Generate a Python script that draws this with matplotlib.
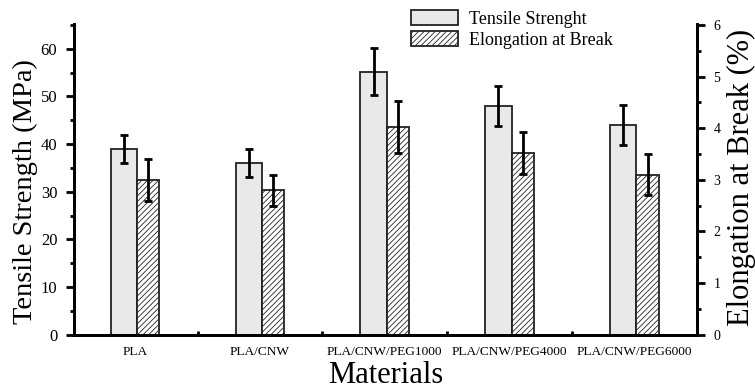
import matplotlib.pyplot as plt
import numpy as np

plt.rcParams['font.family'] = ['Liberation Serif', 'DejaVu Serif']
plt.rcParams['hatch.linewidth'] = 0.6

materials = ['PLA', 'PLA/CNW', 'PLA/CNW/PEG1000', 'PLA/CNW/PEG4000', 'PLA/CNW/PEG6000']
tensile = [39.0, 36.0, 55.2, 48.0, 44.0]
tensile_err = [3.0, 3.0, 4.9, 4.2, 4.2]
elong = [3.0, 2.8, 4.02, 3.52, 3.1]
elong_err = [0.4, 0.3, 0.5, 0.4, 0.4]

x = np.arange(len(materials))

fig = plt.figure(figsize=(7.55, 3.92), dpi=100)
ax = fig.add_axes([0.098, 0.146, 0.825, 0.793])
ax2 = ax.twinx()

b1 = ax.bar(x - 0.09, tensile, 0.21, color='#e9e9e9', edgecolor='#222222', linewidth=1.3,
            yerr=tensile_err, error_kw=dict(ecolor='black', elinewidth=2, capsize=3, capthick=2),
            label='Tensile Strenght', zorder=2)
b2 = ax2.bar(x + 0.105, elong, 0.18, color='white', edgecolor='#222222', linewidth=1.3,
             hatch='//////', yerr=elong_err,
             error_kw=dict(ecolor='black', elinewidth=2, capsize=3, capthick=2),
             label='Elongation at Break', zorder=2)

ax.set_xlim(-0.49, 4.5)
ax.set_ylim(0, 65.2)
ax2.set_ylim(0, 6.02)

ax.set_yticks(np.arange(0, 61, 10))
ax.set_yticks(np.arange(5, 66, 10), minor=True)
ax2.set_yticks(np.arange(0, 7, 1))
ax2.set_yticks(np.arange(0.5, 6, 1), minor=True)

ax.set_xticks(x)
ax.set_xticklabels(materials, fontsize=9.6)
ax.set_xticks(np.arange(0.5, 4, 1), minor=True)
ax.tick_params(axis='x', which='major', length=0, pad=8)
ax.tick_params(axis='x', which='minor', direction='in', length=3, width=2)
ax.tick_params(axis='y', which='major', length=6, width=2, labelsize=12, pad=6)
ax.tick_params(axis='y', which='minor', length=3, width=2)
ax2.tick_params(axis='y', which='major', length=6, width=2, labelsize=10, pad=6)
ax2.tick_params(axis='y', which='minor', length=3, width=2)

for a in (ax, ax2):
    a.spines['top'].set_visible(False)
    for s in ('left', 'right', 'bottom'):
        a.spines[s].set_linewidth(2)

ax.set_ylabel('Tensile Strength (MPa)', fontsize=20.5)
ax.yaxis.set_label_coords(-0.058, 0.46)
ax2.set_ylabel('Elongation at Break (%)', fontsize=22)
ax2.yaxis.set_label_coords(1.048, 0.505)
ax.set_xlabel('Materials', fontsize=22, labelpad=2)

fig.legend([b1, b2], ['Tensile Strenght', 'Elongation at Break'], loc='upper left',
           bbox_to_anchor=(0.523, 1.015), frameon=False, fontsize=13,
           handlelength=2.6, handleheight=0.9, labelspacing=0.15, handletextpad=0.6)

fig.savefig('out.png', dpi=100)
